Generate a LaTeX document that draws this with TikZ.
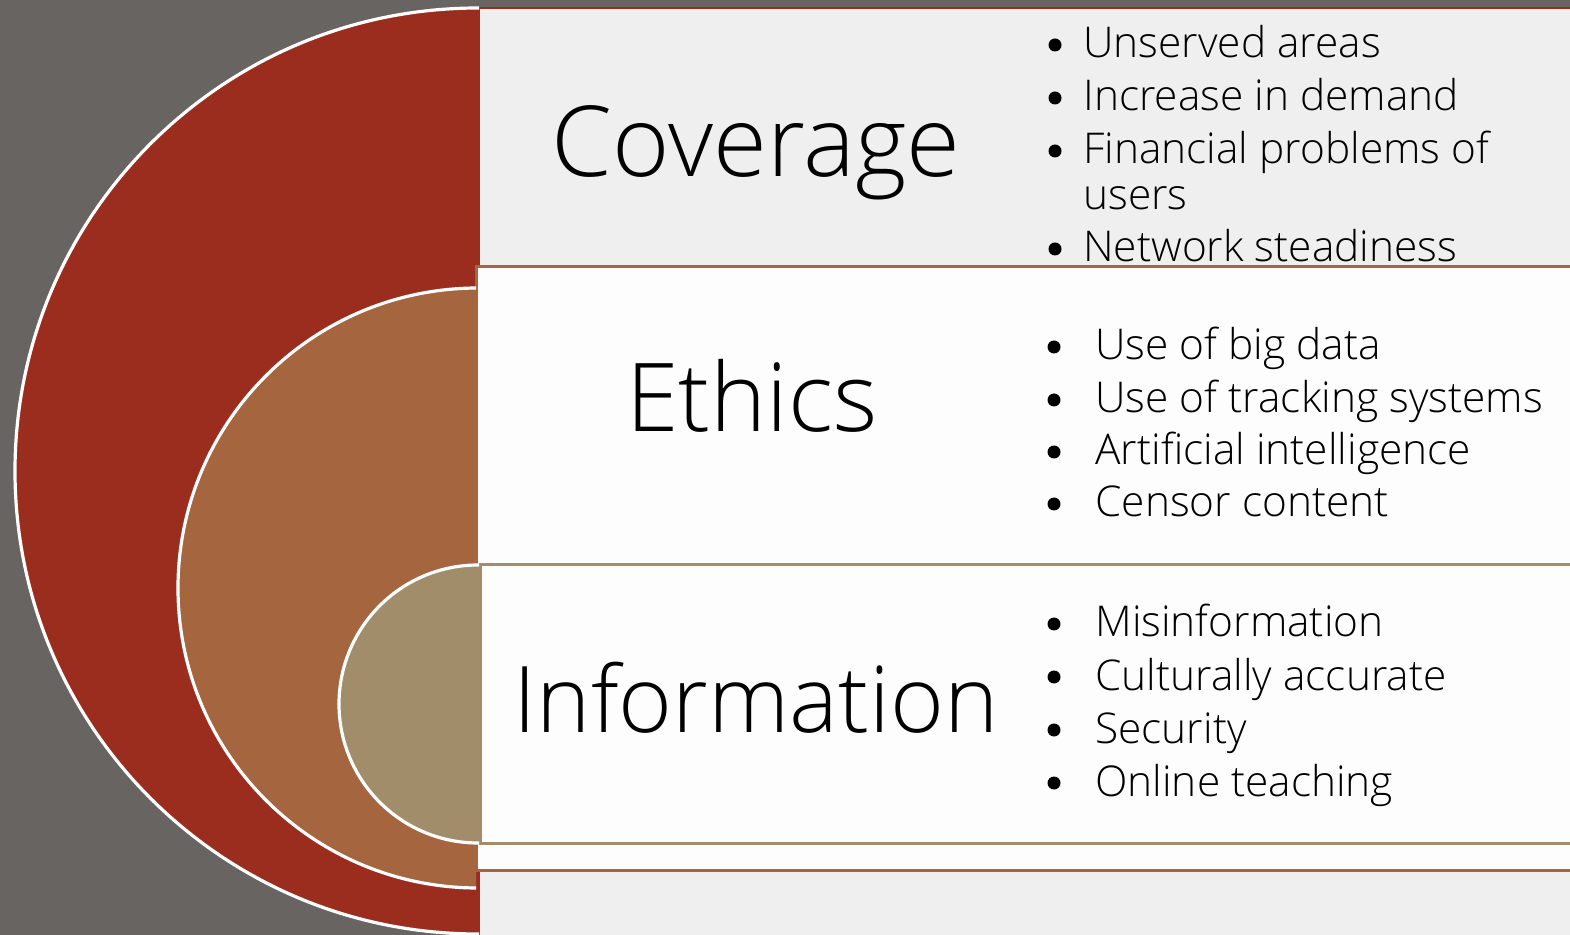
\documentclass[tikz,border=0pt]{standalone}
\usepackage{fontspec}
\setmainfont{Open Sans Light}
\definecolor{bggray}{HTML}{686462}
\definecolor{redc}{HTML}{9B2D1F}
\definecolor{brownc}{HTML}{A5653F}
\definecolor{tanc}{HTML}{A28D6A}
\definecolor{lgray}{HTML}{EFEFEF}
\definecolor{wbox}{HTML}{FDFDFD}
\begin{document}
\begin{tikzpicture}[x=0.5pt,y=-0.5pt,
  disc/.style={draw=white,line width=1.6pt},
  title/.style={anchor=base,inner sep=0pt,font=\fontsize{48}{55}\selectfont},
  item/.style={anchor=base west,inner sep=0pt,font=\fontsize{21.2}{25}\selectfont},
  dot/.style={circle,fill=black,inner sep=0pt,minimum size=6.5pt}]
\useasboundingbox (0,0) rectangle (1570,935);
\fill[bggray] (0,0) rectangle (1570,935);
% red band
\draw[redc,line width=1.2pt,fill=lgray] (479,8) rectangle (1590,950);
\begin{scope}
  \clip (0,0) rectangle (479,935);
  \draw[disc,fill=redc] (478,471) circle[radius=463];
\end{scope}
% brown band
\draw[brownc,line width=1.5pt,fill=wbox] (476,267) rectangle (1590,870);
\begin{scope}
  \clip (0,0) rectangle (476,935);
  \draw[disc,fill=brownc] (478,588) circle[radius=300];
\end{scope}
% tan band
\draw[tanc,line width=1.5pt,fill=wbox] (480,565) rectangle (1590,843);
\begin{scope}
  \clip (0,0) rectangle (479,935);
  \draw[disc,fill=tanc] (478,704) circle[radius=139];
\end{scope}
% titles
\node[title,font=\fontsize{49}{55}\selectfont] (t1) at (756,177) {Coverage};
\node[title,font=\fontsize{47.5}{55}\selectfont] (t2) at (752,432) {Ethics};
\node[title,font=\fontsize{46}{55}\selectfont] (t3) at (756,733) {Information};
% coverage items
\node[dot] (b11) at (1055,45) {};
\node[item] (i11) at (1083,58) {Unserved areas};
\node[dot] (b12) at (1055,98) {};
\node[item] (i12) at (1083,111) {Increase in demand};
\node[dot] (b13) at (1055,151) {};
\node[item] (i13) at (1083,164) {Financial problems of};
\node[item] (i13b) at (1083,210) {users};
\node[dot] (b14) at (1055,249) {};
\node[item] (i14) at (1083,262) {Network steadiness};
% ethics items
\node[dot] (b21) at (1054,347) {};
\node[item] (i21) at (1095,360) {Use of big data};
\node[dot] (b22) at (1054,400) {};
\node[item] (i22) at (1095,413) {Use of tracking systems};
\node[dot] (b23) at (1054,452) {};
\node[item] (i23) at (1095,465) {Artificial intelligence};
\node[dot] (b24) at (1054,504) {};
\node[item] (i24) at (1095,517) {Censor content};
% information items
\node[dot] (b31) at (1054,624) {};
\node[item] (i31) at (1095,637) {Misinformation};
\node[dot] (b32) at (1054,677) {};
\node[item] (i32) at (1095,690) {Culturally accurate};
\node[dot] (b33) at (1054,730) {};
\node[item] (i33) at (1095,743) {Security};
\node[dot] (b34) at (1054,783) {};
\node[item] (i34) at (1095,796) {Online teaching};
\end{tikzpicture}
\end{document}
